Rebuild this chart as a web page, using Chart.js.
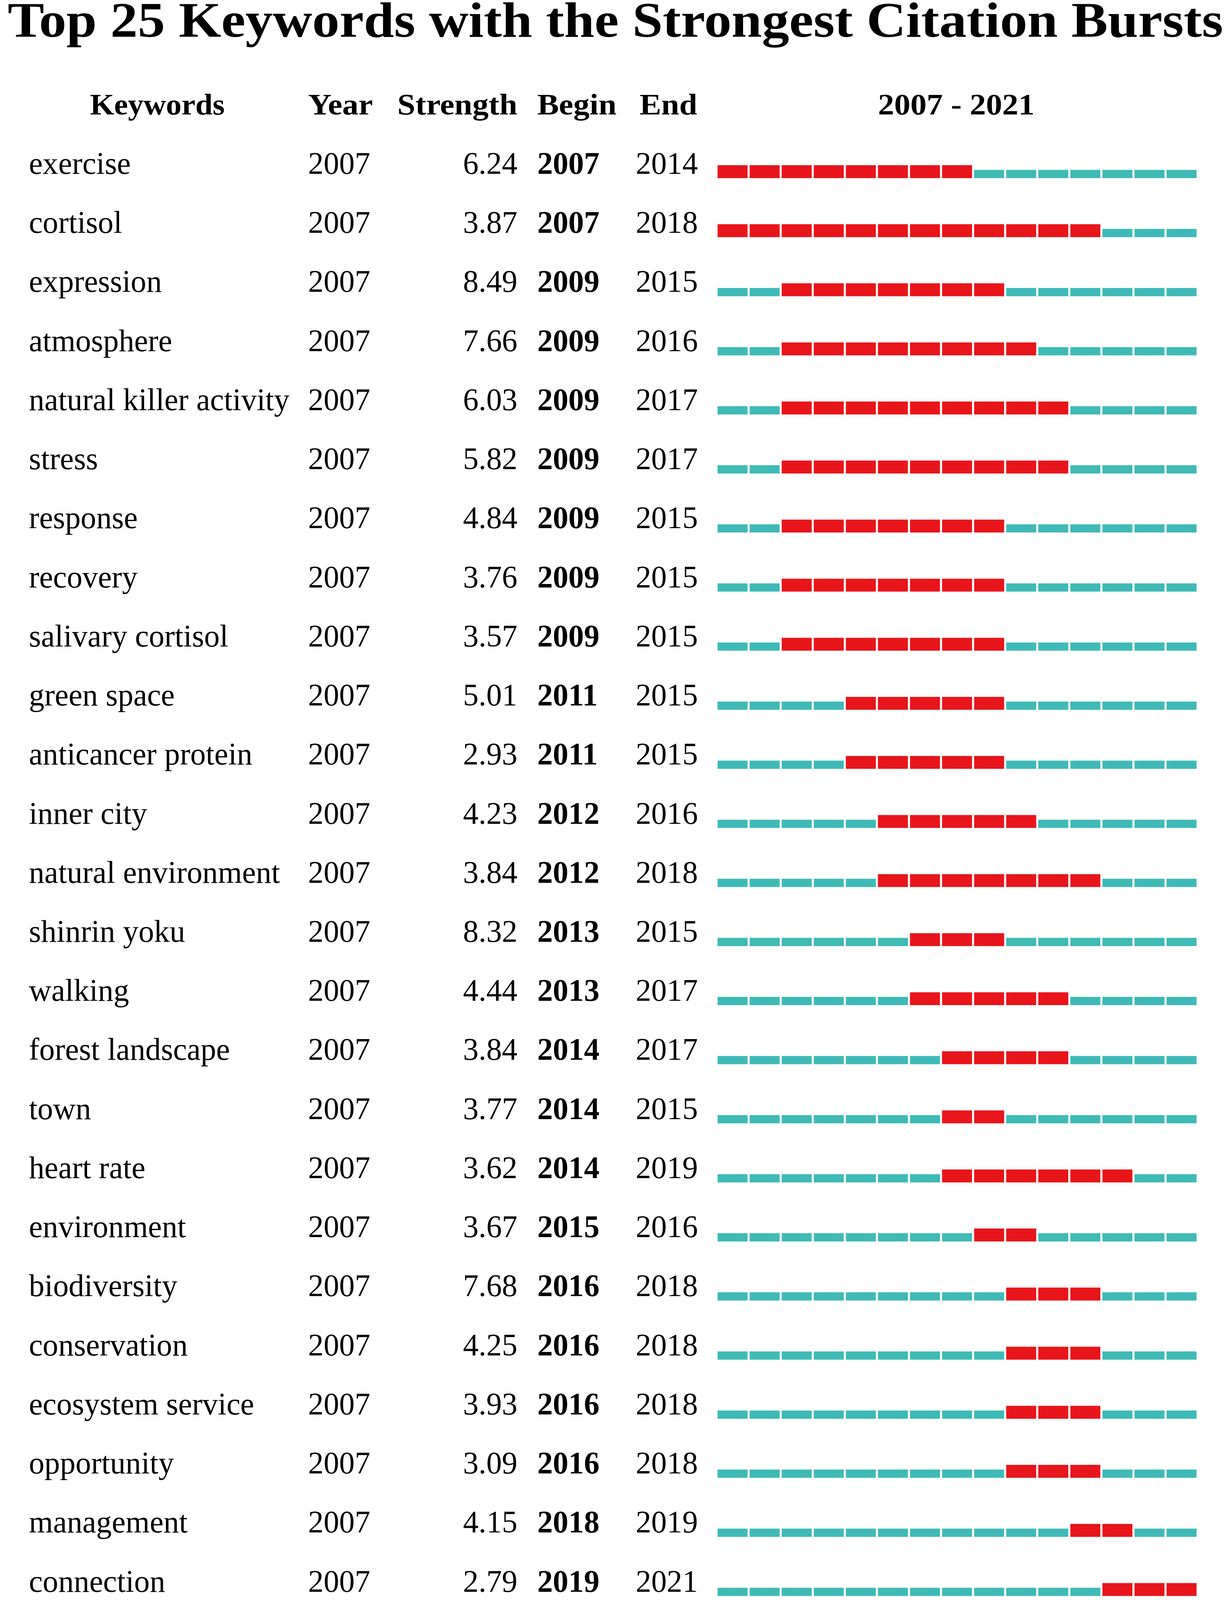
<!DOCTYPE html>
<html>
<head>
<meta charset="utf-8">
<script src="https://cdn.jsdelivr.net/npm/chart.js@4.4.1/dist/chart.umd.min.js"></script>
<style>
  html, body { margin: 0; padding: 0; background: #ffffff; overflow: hidden; }
  canvas { display: block; }
</style>
</head>
<body>
<canvas id="chart"></canvas>
<script>
// ---------------- data ----------------
const chartTitle = 'Top 25 Keywords with the Strongest Citation Bursts';
const headers = ['Keywords', 'Year', 'Strength', 'Begin', 'End'];
const keywords = [
  'exercise', 'cortisol', 'expression', 'atmosphere', 'natural killer activity',
  'stress', 'response', 'recovery', 'salivary cortisol', 'green space',
  'anticancer protein', 'inner city', 'natural environment', 'shinrin yoku', 'walking',
  'forest landscape', 'town', 'heart rate', 'environment', 'biodiversity',
  'conservation', 'ecosystem service', 'opportunity', 'management', 'connection'
];
const years = [
  2007, 2007, 2007, 2007, 2007, 2007, 2007, 2007, 2007, 2007,
  2007, 2007, 2007, 2007, 2007, 2007, 2007, 2007, 2007, 2007,
  2007, 2007, 2007, 2007, 2007
];
const strengths = [
  6.24, 3.87, 8.49, 7.66, 6.03, 5.82, 4.84, 3.76, 3.57, 5.01,
  2.93, 4.23, 3.84, 8.32, 4.44, 3.84, 3.77, 3.62, 3.67, 7.68,
  4.25, 3.93, 3.09, 4.15, 2.79
];
const begins = [
  2007, 2007, 2009, 2009, 2009, 2009, 2009, 2009, 2009, 2011,
  2011, 2012, 2012, 2013, 2013, 2014, 2014, 2014, 2015, 2016,
  2016, 2016, 2016, 2018, 2019
];
const ends = [
  2014, 2018, 2015, 2016, 2017, 2017, 2015, 2015, 2015, 2015,
  2015, 2016, 2018, 2015, 2017, 2017, 2015, 2019, 2016, 2018,
  2018, 2018, 2018, 2019, 2021
];
const rangeStart = 2007;
const rangeEnd = 2021;

// ---------------- page geometry (designed for 3150 x 4447, scaled to the viewport) ----------------
const DESIGN_W = 3150, DESIGN_H = 4447;
const W = window.innerWidth || DESIGN_W;
const H = window.innerHeight || DESIGN_H;
const kx = W / DESIGN_W;
const ky = H / DESIGN_H;
const canvas = document.getElementById('chart');
canvas.width = W;
canvas.height = H;
canvas.style.width = W + 'px';
canvas.style.height = H + 'px';

// ---------------- styles ----------------
const RED = '#e8151b';
const TEAL = '#3fbab7';
const TEAL_THICK = 23 * ky;
const RED_THICK = 36 * ky;
const SERIF = '"Liberation Serif", "Times New Roman", Times, serif';

const timeline = [];
for (let y = rangeStart; y <= rangeEnd; y++) timeline.push(y);

const gapHalf = 3 * kx;
const common = {
  grouped: false,
  borderColor: '#ffffff',
  borderWidth: { left: gapHalf, right: gapHalf, top: 0, bottom: 0 },
  borderSkipped: false,
  borderRadius: 0,
  clip: false
};

const datasets = [];
timeline.forEach(yr => {
  datasets.push(Object.assign({
    label: 'no burst ' + yr,
    kind: 'base',
    data: keywords.map((k, i) => (yr >= begins[i] && yr <= ends[i]) ? null : [yr - 0.5, yr + 0.5]),
    backgroundColor: TEAL,
    barThickness: TEAL_THICK
  }, common));
  datasets.push(Object.assign({
    label: 'burst ' + yr,
    kind: 'burst',
    data: keywords.map((k, i) => (yr >= begins[i] && yr <= ends[i]) ? [yr - 0.5, yr + 0.5] : null),
    backgroundColor: RED,
    barThickness: RED_THICK
  }, common));
});

// text helper: x,y in page pixels; size is the vertical em size in design pixels; sx horizontal squeeze
function drawText(ctx, text, x, y, weight, size, align, sx) {
  ctx.save();
  ctx.font = weight + ' ' + (size * ky) + 'px ' + SERIF;
  ctx.textAlign = align;
  ctx.textBaseline = 'alphabetic';
  ctx.fillStyle = '#000000';
  ctx.translate(x, y);
  ctx.scale(sx * kx / ky, 1);
  ctx.fillText(text, 0, 0);
  ctx.restore();
}

// shift burst bars so they are bottom-aligned with the thinner base bars
const burstShift = {
  id: 'burstShift',
  beforeDatasetDraw(chart, args) {
    const ds = chart.data.datasets[args.index];
    if (ds.kind === 'burst') {
      chart.ctx.save();
      chart.ctx.translate(0, -(RED_THICK - TEAL_THICK) / 2);
    }
  },
  afterDatasetDraw(chart, args) {
    const ds = chart.data.datasets[args.index];
    if (ds.kind === 'burst') chart.ctx.restore();
  }
};

// table text placed from the y scale positions
const tableText = {
  id: 'tableText',
  afterDraw(chart) {
    const ctx = chart.ctx;
    const yS = chart.scales.y;
    const xS = chart.scales.x;
    const pitch = yS.getPixelForValue(1) - yS.getPixelForValue(0);
    const SX = 0.915;

    // title, fitted to its width in the reference
    ctx.save();
    ctx.font = 'bold 139px ' + SERIF;
    const tw = ctx.measureText(chartTitle).width;
    ctx.restore();
    drawText(ctx, chartTitle, 1576 * kx, 102 * ky, 'bold', 139, 'center', 3113 / tw);

    // headers
    const hy = yS.getPixelForValue(0) - pitch - 1 * ky;
    drawText(ctx, headers[0], 403 * kx, hy, 'bold', 83, 'center', 0.96);
    drawText(ctx, headers[1], 789 * kx, hy, 'bold', 83, 'left', 1);
    drawText(ctx, headers[2], 1325 * kx, hy, 'bold', 83, 'right', 1);
    drawText(ctx, headers[3], 1376 * kx, hy, 'bold', 83, 'left', 1);
    drawText(ctx, headers[4], 1638 * kx, hy, 'bold', 83, 'left', 1);
    const midX = (xS.getPixelForValue(rangeStart - 0.5) + xS.getPixelForValue(rangeEnd + 0.5)) / 2;
    drawText(ctx, rangeStart + ' - ' + rangeEnd, midX - 2 * kx, hy, 'bold', 83, 'center', 1);

    // rows
    keywords.forEach((k, i) => {
      const by = yS.getPixelForValue(i) - 0.5 * ky;
      drawText(ctx, k, 74 * kx, by, 'normal', 87, 'left', SX);
      drawText(ctx, String(years[i]), 789 * kx, by, 'normal', 87, 'left', SX);
      drawText(ctx, strengths[i].toFixed(2), 1325 * kx, by, 'normal', 87, 'right', SX);
      drawText(ctx, String(begins[i]), 1376 * kx, by, 'bold', 87, 'left', SX);
      drawText(ctx, String(ends[i]), 1628 * kx, by, 'normal', 87, 'left', SX);
    });
  }
};

new Chart(canvas, {
  type: 'bar',
  data: { labels: keywords, datasets: datasets },
  options: {
    indexAxis: 'y',
    responsive: false,
    animation: false,
    devicePixelRatio: 1,
    events: [],
    layout: {
      padding: {
        left: 1835 * kx,
        right: (DESIGN_W - 3067) * kx,
        top: 483.5 * ky,
        bottom: (DESIGN_H - (483.5 + 24 * 164.2)) * ky
      }
    },
    plugins: {
      legend: { display: false },
      title: { display: false },
      tooltip: { enabled: false }
    },
    scales: {
      x: {
        type: 'linear',
        min: rangeStart - 0.5,
        max: rangeEnd + 0.5,
        display: false
      },
      y: {
        type: 'category',
        offset: false,
        display: false
      }
    }
  },
  plugins: [burstShift, tableText]
});
</script>
</body>
</html>
